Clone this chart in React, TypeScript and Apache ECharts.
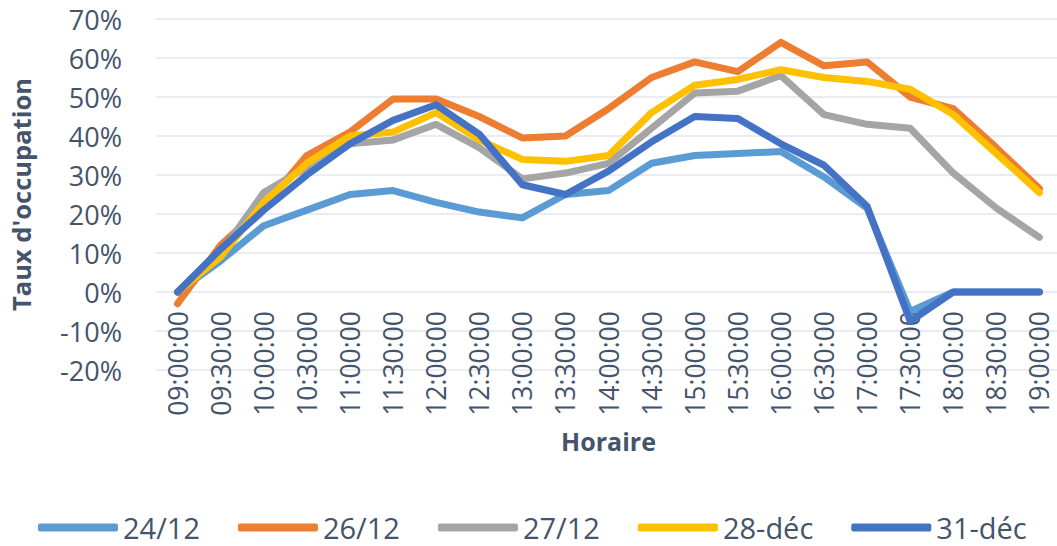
import React, { useEffect, useRef } from "react";
import * as echarts from "echarts";

const categories = [
  "09:00:00", "09:30:00", "10:00:00", "10:30:00", "11:00:00", "11:30:00", "12:00:00",
  "12:30:00", "13:00:00", "13:30:00", "14:00:00", "14:30:00", "15:00:00", "15:30:00",
  "16:00:00", "16:30:00", "17:00:00", "17:30:00", "18:00:00", "18:30:00", "19:00:00",
];

const s2412 = [0, 8, 17, 21, 25, 26, 23, 20.5, 19, 25, 26, 33, 35, 35.5, 36, 29.5, 21.5, -5, 0, 0, 0];
const s2612 = [-3, 12, 22, 35, 41, 49.5, 49.5, 45, 39.5, 40, 47, 55, 59, 56.5, 64, 58, 59, 50, 47, 37, 26.5];
const s2712 = [0, 10, 25.5, 32, 38, 39, 43, 37, 29, 30.5, 33, 42, 51, 51.5, 55.5, 45.5, 43, 42, 30.5, 21.5, 14];
const s28dec = [0, 9, 23, 33, 40, 41, 46, 39, 34, 33.5, 35, 46, 53, 54.5, 57, 55, 54, 52, 45.5, 35.5, 25.5];
const s31dec = [0, 11, 21, 30, 38, 44, 48, 40.5, 27.5, 25, 31, 38.5, 45, 44.5, 38, 32.5, 22, -7.5, 0, 0, 0];

const seriesNames = ["24/12", "26/12", "27/12", "28-déc", "31-déc"];
const seriesData = [s2412, s2612, s2712, s28dec, s31dec];
const colors = ["#5B9BD5", "#ED7D31", "#A5A5A5", "#FFC000", "#4472C4"];

const textColor = "#44546A";
const gridColor = "#E3E6EC";

export default function App() {
  const ref = useRef<HTMLDivElement>(null);
  useEffect(() => {
    if (!ref.current) return;
    const chart = echarts.init(ref.current, undefined, { renderer: "svg" });
    chart.setOption({
      animation: false,
      color: colors,
      grid: {
        left: 156,
        right: -4,
        top: 19,
        bottom: 176,
        containLabel: false,
        outerBoundsMode: "none",
      },
      legend: {
        top: 513,
        left: 38,
        padding: 0,
        itemWidth: 80,
        itemHeight: 8,
        itemGap: 38,
        icon: "roundRect",
        textStyle: { color: textColor, fontSize: 29, fontFamily: "Open Sans" },
        data: seriesNames,
      },
      xAxis: {
        type: "category",
        position: "bottom",
        data: categories,
        boundaryGap: true,
        name: "Horaire",
        nameLocation: "middle",
        nameGap: 58,
        nameTextStyle: { color: textColor, fontSize: 25, fontWeight: "bold", fontFamily: "Open Sans" },
        axisLine: { show: false, onZero: false },
        axisTick: { show: false },
        axisLabel: {
          rotate: 90,
          interval: 0,
          margin: -59,
          color: textColor,
          fontSize: 26.5,
          fontFamily: "Open Sans",
        },
        splitLine: { show: false },
      },
      yAxis: {
        type: "value",
        min: -20,
        max: 70,
        interval: 10,
        name: "Taux d'occupation",
        nameLocation: "middle",
        nameGap: 122,
        nameRotate: 90,
        nameTextStyle: { color: textColor, fontSize: 25.5, fontWeight: "bold", fontFamily: "Open Sans" },
        axisLine: { show: false },
        axisTick: { show: false },
        axisLabel: {
          formatter: "{value}%",
          margin: 34,
          color: textColor,
          fontSize: 27,
          fontFamily: "Open Sans",
        },
        splitLine: { lineStyle: { color: gridColor, width: 1.5 } },
      },
      series: seriesNames.map((n, i) => ({
        name: n,
        type: "line",
        data: seriesData[i],
        symbol: "none",
        lineStyle: { width: 7, color: colors[i], cap: "round", join: "round" },
        itemStyle: { color: colors[i] },
        z: 2 + i,
      })),
    });
    return () => chart.dispose();
  }, []);
  return (
    <div
      ref={ref}
      style={{ position: "fixed", left: 0, top: 0, width: 1057, height: 546, background: "#fff" }}
    />
  );
}
